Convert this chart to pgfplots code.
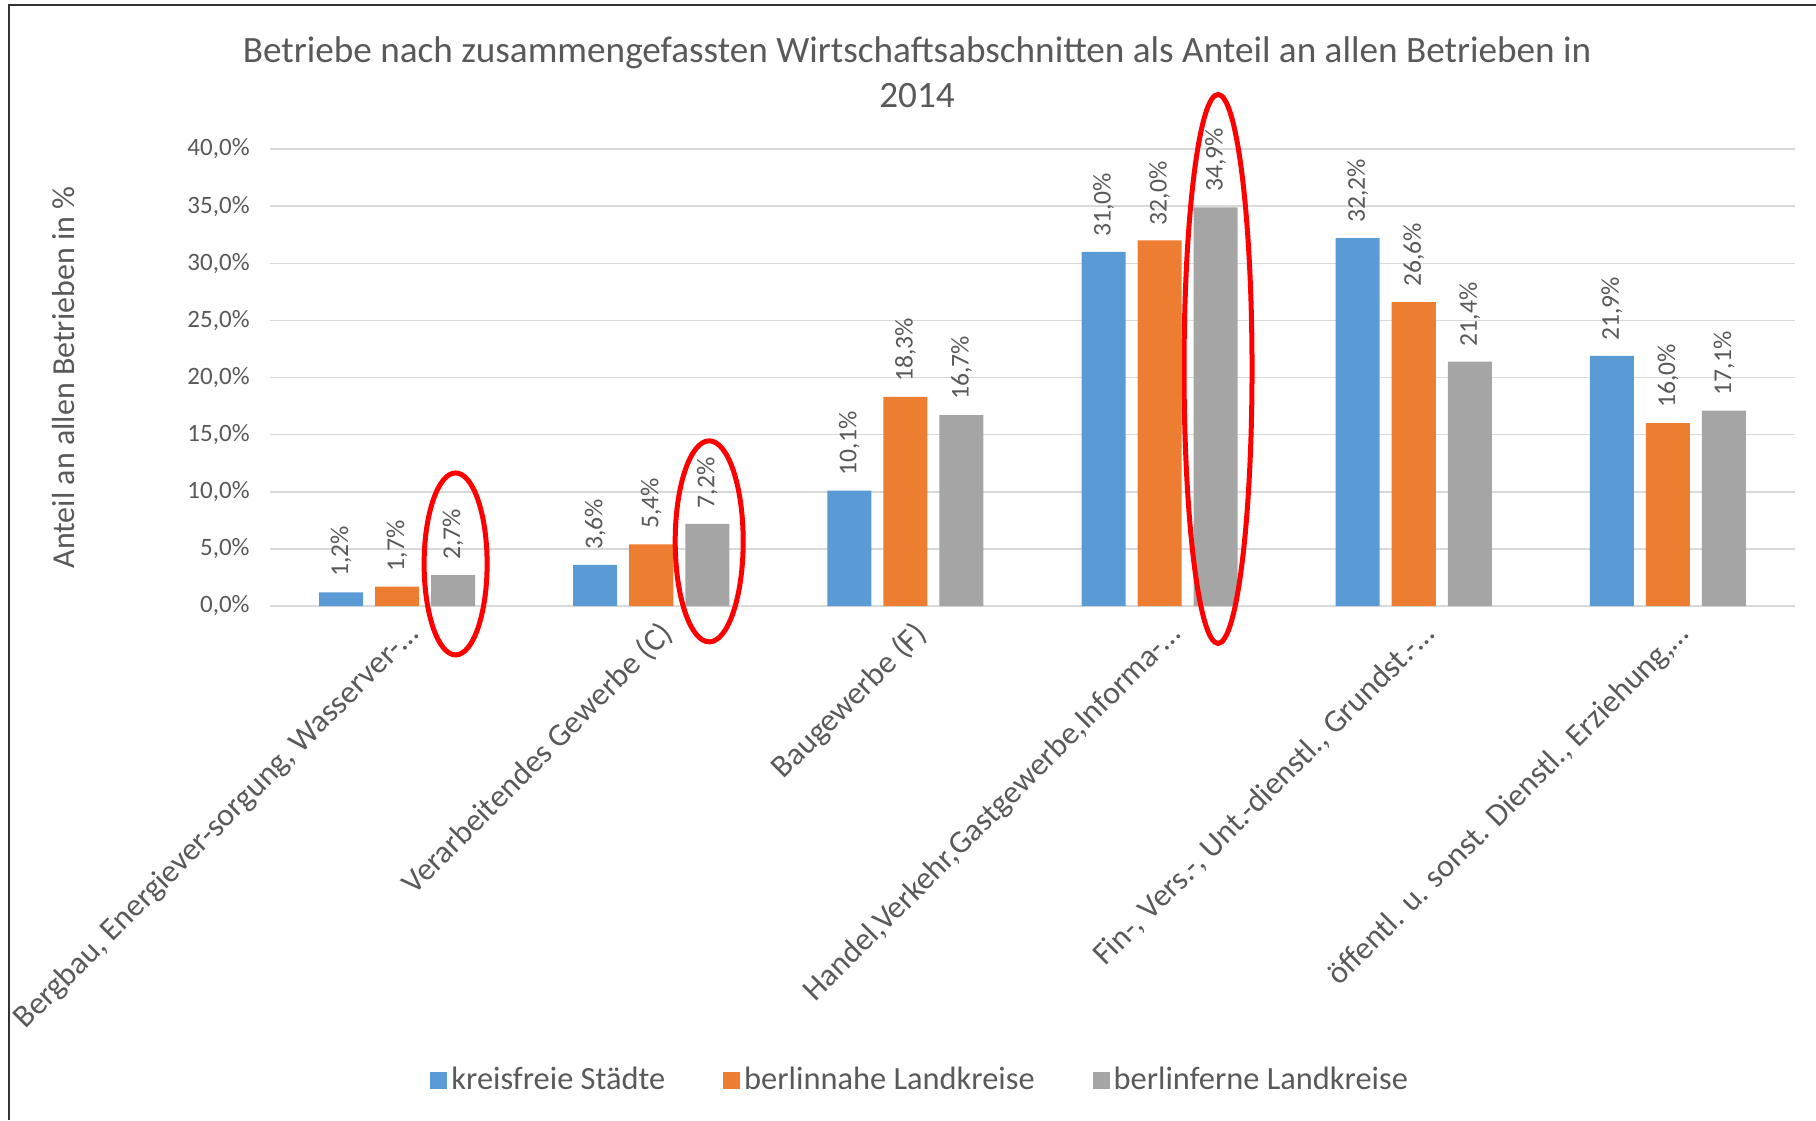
\documentclass[border=0pt]{standalone}
\usepackage{fontspec}
\setmainfont{Carlito}
\usepackage{pgfplots}
\pgfplotsset{compat=1.18}
\definecolor{cA}{HTML}{5B9BD5}
\definecolor{cB}{HTML}{ED7D31}
\definecolor{cC}{HTML}{A5A5A5}
\definecolor{txt}{HTML}{595959}
\definecolor{grd}{HTML}{D9D9D9}
\definecolor{frm}{HTML}{333333}
\begin{document}
\begin{tikzpicture}
\path[use as bounding box] (0,0) rectangle (908pt,-560pt);
\draw[frm, line width=1pt] (4.65pt,-560pt) -- (4.65pt,-2.6pt) -- (908pt,-2.6pt);
\begin{axis}[
  at={(135pt,-303pt)}, anchor=south west,
  scale only axis, width=762.5pt, height=228.5pt,
  xmin=-0.5, xmax=5.5, ymin=0, ymax=40,
  ytick={0,5,...,40},
  xtick={0,1,2,3,4,5},
  xticklabels={{Bergbau, Energiever-sorgung, Wasserver-…},{Verarbeitendes Gewerbe (C)},{Baugewerbe (F)},{Handel,Verkehr,Gastgewerbe,Informa-…},{Fin-, Vers.-, Unt.-dienstl., Grundst.-…},{öffentl. u. sonst. Dienstl., Erziehung,…}},
  axis line style={draw=none},
  tick style={draw=none},
  ymajorgrids, grid style={grd, line width=0.75pt},
  ybar, bar width=0.1732,
  legend image code/.code={\fill[#1] (-2.5pt,-4.3pt) rectangle (6pt,4.2pt);},
  clip=false,
  /pgf/number format/assume math mode=true,
  yticklabel={\pgfmathprintnumber[fixed,fixed zerofill,precision=1,use comma]{\tick}\%},
  yticklabel style={font=\fontsize{12.5}{14}\selectfont, text=txt, anchor=east, inner sep=0pt, xshift=-10pt},
  xticklabel style={font=\fontsize{16}{18}\selectfont, text=txt, xshift=11.5pt, yshift=-10.5pt, rotate=45, anchor=base east, inner sep=0pt},
  nodes near coords={\pgfmathprintnumber[fixed,fixed zerofill,precision=1,use comma]{\pgfplotspointmeta}\%},
  nodes near coords style={font=\fontsize{12.8}{14}\selectfont, text=txt, rotate=90, anchor=west, inner sep=0pt},
  every node near coord/.append style={inner sep=7.5pt},
  ylabel={Anteil an allen Betrieben in \%},
  every axis y label/.style={at={(rel axis cs:-0.1357,0.5)}, rotate=90, anchor=center, font=\fontsize{16}{19}\selectfont, text=txt},
  title={Betriebe nach zusammengefassten Wirtschaftsabschnitten als Anteil an allen Betrieben in\\2014},
  every axis title/.style={at={(rel axis cs:0.4243,1.1674)}, anchor=center, align=center, font=\fontsize{18.6}{22.5}\selectfont, text=txt},
  legend columns=3,
  legend style={at={(rel axis cs:0.427,-1.0372)}, anchor=center, draw=none, fill=none, font=\fontsize{16.2}{18}\selectfont, text=txt, /tikz/every even column/.append style={column sep=27pt}},
]
\addplot[fill=cA, draw=none, bar shift=-0.2205] coordinates {(0,1.2) (1,3.6) (2,10.1) (3,31.0) (4,32.2) (5,21.9)};
\addlegendentry{kreisfreie Städte}
\addplot[fill=cB, draw=none, bar shift=0] coordinates {(0,1.7) (1,5.4) (2,18.3) (3,32.0) (4,26.6) (5,16.0)};
\addlegendentry{berlinnahe Landkreise}
\addplot[fill=cC, draw=none, bar shift=0.2205] coordinates {(0,2.7) (1,7.2) (2,16.7) (3,34.9) (4,21.4) (5,17.1)};
\addlegendentry{berlinferne Landkreise}
\draw[red, line width=2.5pt] (axis cs:0.2303,3.684) ellipse [x radius=15.75pt, y radius=45.5pt];
\draw[red, line width=2.5pt] (axis cs:1.228,5.66) ellipse [x radius=17pt, y radius=50.25pt];
\draw[red, line width=2.5pt] (axis cs:3.230,20.75) ellipse [x radius=17pt, y radius=137.25pt];
\end{axis}
\end{tikzpicture}
\end{document}
